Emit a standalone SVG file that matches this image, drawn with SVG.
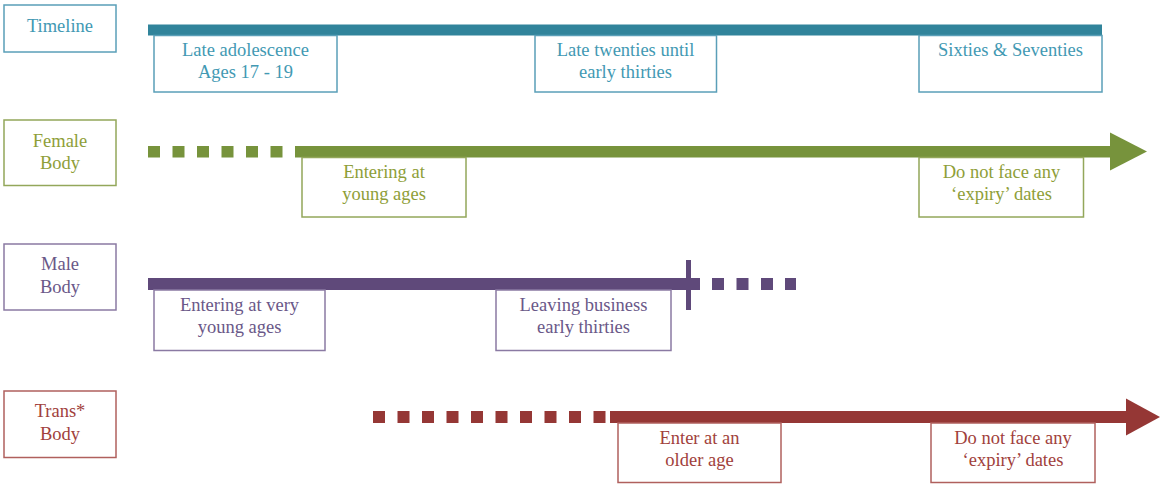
<svg xmlns="http://www.w3.org/2000/svg" width="1161" height="484" viewBox="0 0 1161 484">
<style>
text{font-family:"Liberation Serif","Times New Roman",serif;font-size:18.5px;text-anchor:middle}
rect.b{fill:#fff;stroke-width:1.5}
.teal rect.b{stroke:#5a9fb8}.teal text{fill:#4299b3}
.green rect.b{stroke:#93a75a}.green text{fill:#8e9e38}
.purple rect.b{stroke:#8a7aa3}.purple text{fill:#6a5888}
.red rect.b{stroke:#b0605d}.red text{fill:#a13f3c}
</style>
<rect width="1161" height="484" fill="#fff"/>
<g id="connectors">
<rect x="148" y="24.5" width="954" height="11" fill="#31849b"/>
<g fill="#77933c">
<rect x="148" y="146" width="12" height="11.5"/><rect x="172.5" y="146" width="12" height="11.5"/><rect x="197" y="146" width="12" height="11.5"/><rect x="221.5" y="146" width="12" height="11.5"/><rect x="246" y="146" width="12" height="11.5"/><rect x="270.5" y="146" width="12" height="11.5"/>
<rect x="295" y="146" width="817" height="11.5"/>
<polygon points="1110,132.5 1147,151.5 1110,170.5"/>
</g>
<g fill="#5f497a">
<rect x="148" y="278" width="552" height="12"/>
<rect x="686" y="260" width="5" height="50"/>
<rect x="712" y="278" width="12" height="12"/><rect x="736.5" y="278" width="12" height="12"/><rect x="761" y="278" width="12" height="12"/><rect x="785" y="278" width="11" height="12"/>
</g>
<g fill="#953735">
<rect x="373" y="411" width="12" height="12"/><rect x="397.5" y="411" width="12" height="12"/><rect x="422" y="411" width="12" height="12"/><rect x="446.5" y="411" width="12" height="12"/><rect x="471" y="411" width="12" height="12"/><rect x="495.5" y="411" width="12" height="12"/><rect x="520" y="411" width="12" height="12"/><rect x="544.5" y="411" width="12" height="12"/><rect x="569" y="411" width="12" height="12"/><rect x="593.5" y="411" width="12" height="12"/>
<rect x="610" y="411" width="518" height="12"/>
<polygon points="1126,398.5 1160,417 1126,435.5"/>
</g>
</g>
<g id="timeline" class="teal">
<rect class="b" x="4" y="5" width="112" height="47"/>
<text x="60" y="32">Timeline</text>
</g>
<g id="t1" class="teal">
<rect class="b" x="154" y="35.5" width="183" height="56.5"/>
<text x="245.5" y="56">Late adolescence</text>
<text x="245.5" y="78">Ages 17 - 19</text>
</g>
<g id="t2" class="teal">
<rect class="b" x="535" y="35.5" width="181.5" height="56.5"/>
<text x="625.5" y="56">Late twenties until</text>
<text x="625.5" y="78">early thirties</text>
</g>
<g id="t3" class="teal">
<rect class="b" x="919" y="35.5" width="183" height="56.5"/>
<text x="1010.5" y="56">Sixties &amp; Seventies</text>
</g>
<g id="female" class="green">
<rect class="b" x="4" y="120" width="112" height="65.5"/>
<text x="60" y="147">Female</text>
<text x="60" y="169">Body</text>
</g>
<g id="f1" class="green">
<rect class="b" x="302" y="157.5" width="164" height="59.5"/>
<text x="384" y="178">Entering at</text>
<text x="384" y="200">young ages</text>
</g>
<g id="f2" class="green">
<rect class="b" x="919" y="157.5" width="164.5" height="59.5"/>
<text x="1001.5" y="178">Do not face any</text>
<text x="1001.5" y="200">‘expiry’ dates</text>
</g>
<g id="male" class="purple">
<rect class="b" x="4" y="244" width="112" height="66"/>
<text x="60" y="270">Male</text>
<text x="60" y="293">Body</text>
</g>
<g id="m1" class="purple">
<rect class="b" x="154" y="290" width="171" height="60.5"/>
<text x="239.5" y="311">Entering at very</text>
<text x="239.5" y="333">young ages</text>
</g>
<g id="m2" class="purple">
<rect class="b" x="496" y="290" width="175" height="60.5"/>
<text x="583.5" y="311">Leaving business</text>
<text x="583.5" y="333">early thirties</text>
</g>
<g id="trans" class="red">
<rect class="b" x="4" y="391" width="112" height="66.5"/>
<text x="60" y="417">Trans*</text>
<text x="60" y="440">Body</text>
</g>
<g id="r1" class="red">
<rect class="b" x="618" y="423" width="163" height="59.5"/>
<text x="699.5" y="444">Enter at an</text>
<text x="699.5" y="466">older age</text>
</g>
<g id="r2" class="red">
<rect class="b" x="931" y="423" width="164" height="59.5"/>
<text x="1013" y="444">Do not face any</text>
<text x="1013" y="466">‘expiry’ dates</text>
</g>
</svg>
